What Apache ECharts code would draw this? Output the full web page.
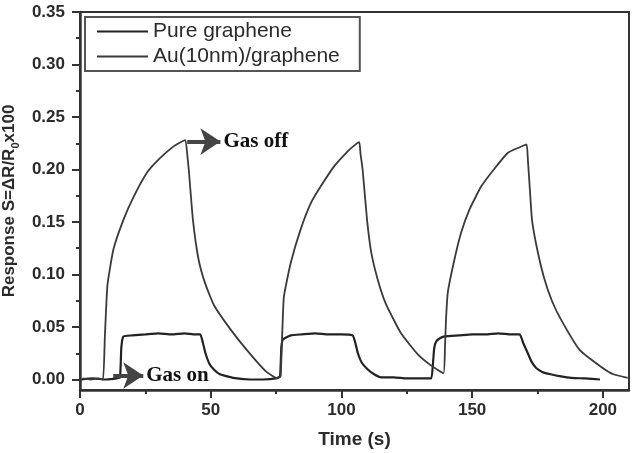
<!DOCTYPE html>
<html>
<head>
<meta charset="utf-8">
<script src="https://cdn.jsdelivr.net/npm/echarts@6.0.0/dist/echarts.min.js"></script>
<style>
  html, body { margin: 0; padding: 0; background: #fff; }
  #chart { width: 637px; height: 453px; }
</style>
</head>
<body>
<div id="chart"></div>
<script>
// values
const xTicks = [0, 50, 100, 150, 200];
const xMinor = [25, 75, 125, 175];
const yTicks = [0, 0.05, 0.10, 0.15, 0.20, 0.25, 0.30, 0.35];
const yMinor = [0.025, 0.075, 0.125, 0.175, 0.225, 0.275, 0.325];

const pureTime = [0.5, 5, 10, 14, 15.3, 15.8, 16.6, 20, 25, 30, 35, 40, 44, 46, 47, 48, 49.5, 51.2, 53.5, 56.3, 60, 65, 70, 75, 76.5,
  77, 77.6, 80.6, 85, 90, 95, 100, 104.3, 105.3, 106.3, 107.8, 110.1, 112.5, 115.2, 120, 125, 130, 134.3,
  135, 135.5, 136.2, 137.5, 139.4, 145, 150, 155, 160, 165, 168.2, 169.5, 171.3, 172.7, 174.5, 177, 180, 184, 188, 193, 198.9];
const pureResp = [0.000, 0.001, 0.000, 0.001, 0.002, 0.030, 0.041, 0.042, 0.043, 0.044, 0.043, 0.044, 0.043, 0.043, 0.035, 0.025, 0.015, 0.0095, 0.005, 0.003, 0.001, 0.000, 0.000, 0.001, 0.003,
  0.030, 0.038, 0.042, 0.043, 0.044, 0.043, 0.043, 0.042, 0.035, 0.025, 0.016, 0.0095, 0.005, 0.002, 0.002, 0.001, 0.001, 0.001,
  0.015, 0.030, 0.036, 0.039, 0.041, 0.042, 0.043, 0.043, 0.044, 0.043, 0.043, 0.035, 0.025, 0.017, 0.011, 0.007, 0.005, 0.003, 0.0016, 0.001, 0.000];

const auTime = [1, 4, 7, 8.8, 9.5, 10.5, 12.8, 16.6, 20.5, 25.6, 30.7, 35.8, 38.5, 40.3,
  41.0, 41.6, 43.2, 45.3, 47.8, 51.2, 57.5, 64.5, 71, 75.5,
  76.7, 77.3, 78.0, 80.6, 84.4, 88.3, 92.1, 97.2, 102.3, 104.5, 106.8,
  107.3, 108.1, 109.8, 111.4, 113.9, 117, 122.8, 129.2, 134.5, 139.0,
  139.6, 140.0, 140.7, 143.2, 145.8, 149.0, 153.5, 158.6, 163.7, 168, 170.8,
  171.3, 172.0, 172.9, 174.8, 177.5, 180.5, 184, 191, 199, 204, 209.5];
const auResp = [0.001, 0.000, 0.001, 0.000, 0.040, 0.090, 0.124, 0.152, 0.174, 0.197, 0.211, 0.222, 0.226, 0.228,
  0.215, 0.200, 0.152, 0.115, 0.092, 0.071, 0.048, 0.026, 0.008, 0.001,
  0.003, 0.040, 0.079, 0.111, 0.143, 0.168, 0.184, 0.203, 0.217, 0.222, 0.226,
  0.215, 0.200, 0.152, 0.121, 0.095, 0.072, 0.044, 0.024, 0.013, 0.006,
  0.030, 0.057, 0.083, 0.114, 0.140, 0.162, 0.184, 0.201, 0.216, 0.221, 0.224,
  0.210, 0.184, 0.152, 0.125, 0.097, 0.075, 0.057, 0.0285, 0.0127, 0.005, 0.0016];

const pairs = (xs, ys) => xs.map((x, i) => [x, ys[i]]);

const sans = 'Liberation Sans, Arial, sans-serif';
const serif = 'Liberation Serif, Times New Roman, serif';
const ink = '#2b2b2b';

const chart = echarts.init(document.getElementById('chart'));

const option = {
  animation: false,
  backgroundColor: '#fff',
  grid: {
    left: 80, right: 8, top: 12, bottom: 63,
    containLabel: false,
    outerBoundsMode: 'none',
    show: true, borderColor: '#333', borderWidth: 2
  },
  legend: {
    orient: 'vertical',
    left: 85, top: 17,
    padding: [4, 20, 4, 12],
    itemGap: 4,
    icon: 'rect',
    itemWidth: 51,
    itemHeight: 2,
    borderColor: '#555',
    borderWidth: 2,
    textStyle: { fontFamily: sans, fontSize: 21, color: ink },
    data: ['Pure graphene', 'Au(10nm)/graphene']
  },
  xAxis: [{
    type: 'value', min: 0, max: 210,
    name: 'Time (s)', nameLocation: 'middle', nameGap: 40,
    nameTextStyle: { fontFamily: sans, fontSize: 19, fontWeight: 'bold', color: ink },
    axisLine: { onZero: false, lineStyle: { color: '#333', width: 2.5 } },
    axisTick: { customValues: xTicks, length: 8, lineStyle: { color: '#333', width: 2 } },
    axisLabel: {
      customValues: xTicks, margin: 12,
      fontFamily: sans, fontSize: 17, fontWeight: 'bold', color: ink
    },
    splitLine: { show: false }
  }, {
    type: 'value', min: 0, max: 210, position: 'bottom',
    axisLine: { show: false, onZero: false },
    axisTick: { customValues: xMinor, length: 4, lineStyle: { color: '#333', width: 2 } },
    axisLabel: { show: false },
    splitLine: { show: false }
  }],
  yAxis: [{
    type: 'value', min: -0.01, max: 0.35, position: 'left',
    name: '{a|Response S=ΔR/R}{s|0}{a|x100}', nameLocation: 'middle', nameGap: 59,
    nameTextStyle: {
      rich: {
        a: { fontFamily: sans, fontSize: 17, fontWeight: 'bold', color: ink },
        s: { fontFamily: sans, fontSize: 11, fontWeight: 'bold', color: ink, padding: [12, 0, 0, 0] }
      }
    },
    axisLine: { onZero: false, lineStyle: { color: '#333', width: 2.5 } },
    axisTick: { customValues: yTicks, length: 8, lineStyle: { color: '#333', width: 2 } },
    axisLabel: {
      customValues: yTicks, margin: 15,
      formatter: v => v.toFixed(2),
      fontFamily: sans, fontSize: 17, fontWeight: 'bold', color: ink
    },
    splitLine: { show: false }
  }, {
    type: 'value', min: -0.01, max: 0.35, position: 'left',
    axisLine: { show: false, onZero: false },
    axisTick: { customValues: yMinor, length: 4, lineStyle: { color: '#333', width: 2 } },
    axisLabel: { show: false },
    splitLine: { show: false }
  }],
  series: [{
    name: 'Pure graphene',
    type: 'line',
    symbol: 'none',
    smooth: 0.15,
    data: pairs(pureTime, pureResp),
    lineStyle: { color: '#222', width: 2.2 },
    itemStyle: { color: '#222' },
    z: 3
  }, {
    name: 'Au(10nm)/graphene',
    type: 'line',
    symbol: 'none',
    smooth: 0.15,
    data: pairs(auTime, auResp),
    lineStyle: { color: '#3a3a3a', width: 1.8 },
    itemStyle: { color: '#3a3a3a' },
    markLine: {
      silent: true,
      symbol: ['none', 'arrow'],
      symbolSize: [20, 20],
      lineStyle: { color: '#444', width: 4, type: 'solid' },
      label: {
        show: true, position: 'end', distance: 3,
        fontFamily: serif, fontSize: 21, fontWeight: 'bold', color: '#111'
      },
      data: [
        [{ coord: [41, 0.2266], label: { formatter: 'Gas off' } }, { coord: [53.7, 0.2266] }],
        [{ coord: [12.7, 0.0038], label: { formatter: 'Gas on' } }, { coord: [24.2, 0.0038] }]
      ]
    }
  }]
};

chart.setOption(option);
</script>
</body>
</html>
